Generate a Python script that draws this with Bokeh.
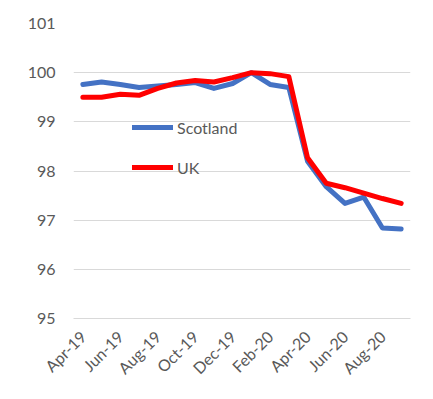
import math
from bokeh.plotting import figure
from bokeh.models import Range1d, FixedTicker, Legend, LegendItem
from bokeh.embed import file_html
from bokeh.resources import INLINE

months = ["Apr-19", "May-19", "Jun-19", "Jul-19", "Aug-19", "Sep-19", "Oct-19", "Nov-19",
          "Dec-19", "Jan-20", "Feb-20", "Mar-20", "Apr-20", "May-20", "Jun-20", "Jul-20",
          "Aug-20", "Sep-20"]
scotland = [99.76, 99.81, 99.76, 99.70, 99.73, 99.76, 99.80, 99.68, 99.78, 100.0,
            99.76, 99.70, 98.20, 97.68, 97.34, 97.47, 96.84, 96.82]
uk = [99.50, 99.50, 99.56, 99.54, 99.68, 99.79, 99.84, 99.81, 99.90, 100.0,
      99.98, 99.92, 98.27, 97.75, 97.66, 97.55, 97.44, 97.34]
y_ticks = [95, 96, 97, 98, 99, 100, 101]

xs = list(range(len(months)))

p = figure(width=425, height=391, output_backend="svg", toolbar_location=None,
           x_range=Range1d(-0.5, len(months) - 0.5), y_range=Range1d(95, 101),
           min_border_left=73, min_border_right=15, min_border_top=23, min_border_bottom=73)
p.outline_line_color = None
p.background_fill_color = "white"
p.border_fill_color = "white"

font = "Lato"
grey = "#595959"
fsize = "16px"

p.xgrid.grid_line_color = None
p.ygrid.grid_line_color = "#d9d9d9"
p.ygrid.grid_line_width = 1

p.yaxis.ticker = FixedTicker(ticks=y_ticks)
p.yaxis.axis_line_color = None
p.yaxis.major_tick_line_color = None
p.yaxis.minor_tick_line_color = None
p.yaxis.major_tick_out = 0
p.yaxis.major_tick_in = 0
p.yaxis.major_label_standoff = 18
p.yaxis.major_label_text_font = font
p.yaxis.major_label_text_font_size = fsize
p.yaxis.major_label_text_color = grey

p.xaxis.ticker = FixedTicker(ticks=xs[::2])
p.xaxis.major_label_overrides = {i: months[i] for i in xs}
p.xaxis.axis_line_color = "#d9d9d9"
p.xaxis.major_tick_line_color = None
p.xaxis.minor_tick_line_color = None
p.xaxis.major_tick_out = 0
p.xaxis.major_tick_in = 0
p.xaxis.major_label_standoff = 15
p.xaxis.major_label_orientation = math.pi / 4
p.xaxis.major_label_text_font = font
p.xaxis.major_label_text_font_size = fsize
p.xaxis.major_label_text_color = grey

r_s = p.line(xs, scotland, line_color="#4472C4", line_width=5, line_join="round", line_cap="round")
r_u = p.line(xs, uk, line_color="#FF0000", line_width=5, line_join="round", line_cap="round")

legend = Legend(items=[LegendItem(label="Scotland", renderers=[r_s]),
                       LegendItem(label="UK", renderers=[r_u])],
                location=(59, 141))
legend.padding = 0
legend.margin = 0
legend.spacing = 20
legend.glyph_width = 41
legend.glyph_height = 20
legend.label_height = 20
legend.label_standoff = 4
legend.border_line_color = None
legend.background_fill_alpha = 0
legend.label_text_font = font
legend.label_text_font_size = fsize
legend.label_text_color = grey
p.add_layout(legend, "center")

open("out.html", "w").write(file_html(p, INLINE))
